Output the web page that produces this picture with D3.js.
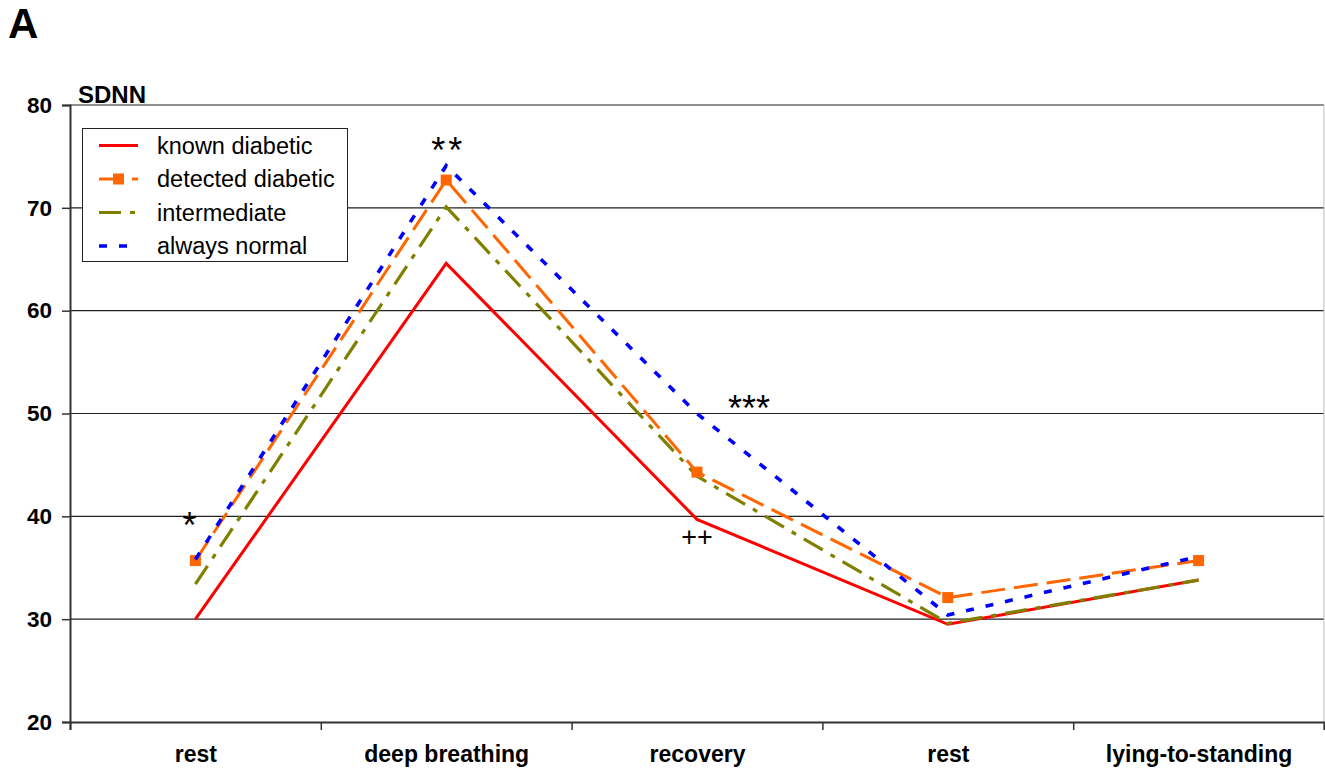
<!DOCTYPE html>
<html><head><meta charset="utf-8">
<script src="https://cdn.jsdelivr.net/npm/d3@7"></script>
<style>
body{margin:0;background:#fff;}
svg{display:block;font-family:"Liberation Sans",Arial,sans-serif;}
</style></head>
<body><svg id="c" width="1325" height="773"></svg>
<script>
const categories = ["rest","deep breathing","recovery","rest ","lying-to-standing"];
const knownDiabetic    = [30.0, 64.6, 39.7, 29.5, 33.8];
const detectedDiabetic = [35.7, 72.7, 44.3, 32.1, 35.7];
const intermediate     = [33.4, 70.1, 43.9, 29.6, 33.8];
const alwaysNormal     = [35.8, 74.1, 50.0, 30.4, 36.1];
const seriesNames = ["known diabetic","detected diabetic","intermediate","always normal"];
const yTicks = [20,30,40,50,60,70,80];
const annotations = [
  {cat:0, v:37.85, text:"*"},
  {cat:1, v:74.4, text:"**"},
  {cat:2, v:49.3, text:"***"},
  {cat:2, v:37.1, text:"++"}
];
const annotDx = [-6, 2, 52, 0];
const annotSize = [36, 36, 36, 27];
const annotSpacing = [0, 3, 0, 0];

const svg = d3.select("#c");
const L = 70, R = 1324, T = 105, B = 722;

const x = d3.scalePoint().domain(categories).range([L, R]).padding(0.5);
const xb = d3.scaleLinear().domain([0, categories.length]).range([L, R]);
const y = d3.scaleLinear().domain([20, 80]).range([B, T]);

// gridlines
svg.append("g").selectAll("line").data(yTicks.slice(1)).join("line")
  .attr("x1", L).attr("x2", R).attr("y1", d => y(d)).attr("y2", d => y(d))
  .attr("stroke", "#222").attr("stroke-width", 1.2);

// right border (light)
svg.append("line").attr("x1", R).attr("x2", R).attr("y1", T).attr("y2", B)
  .attr("stroke", "#bbb").attr("stroke-width", 1);

// y axis
const ya = svg.append("g").attr("transform", `translate(${L},0)`)
  .call(d3.axisLeft(y).tickValues(yTicks).tickSize(8).tickPadding(10));
ya.select(".domain").attr("stroke", "#333").attr("stroke-width", 2);
ya.selectAll(".tick line").attr("stroke", "#333").attr("stroke-width", 1.5);
ya.selectAll(".tick text").attr("font-size", 22.5).attr("font-weight", "bold")
  .attr("fill", "#000").attr("font-family", "Liberation Sans, Arial, sans-serif");

// x axis: boundary ticks
const xa = svg.append("g").attr("transform", `translate(0,${B})`)
  .call(d3.axisBottom(xb).tickValues(d3.range(0, categories.length + 1)).tickSize(8).tickFormat(""));
xa.select(".domain").attr("stroke", "#333").attr("stroke-width", 2);
xa.selectAll(".tick line").attr("stroke", "#333").attr("stroke-width", 1.5);
// category labels
const xl = svg.append("g").attr("transform", `translate(0,${B})`)
  .call(d3.axisBottom(x).tickSize(0).tickPadding(24));
xl.select(".domain").remove();
xl.selectAll(".tick text").attr("font-size", 23).attr("font-weight", "bold")
  .attr("fill", "#000").attr("font-family", "Liberation Sans, Arial, sans-serif");

// series
const series = [
  {name: seriesNames[0], values: knownDiabetic, color: "#ff0000", dash: null, w: 3},
  {name: seriesNames[1], values: detectedDiabetic, color: "#ff6600", dash: "24,9", w: 3, marker: true},
  {name: seriesNames[2], values: intermediate, color: "#808000", dash: "22,9,5,9", w: 3.2},
  {name: seriesNames[3], values: alwaysNormal, color: "#0000ff", dash: "8,12", w: 3.6}
];
const line = d3.line().x((d, i) => x(categories[i])).y(d => y(d));
const drawOrder = [0, 2, 1, 3];
drawOrder.forEach(k => {
  const s = series[k];
  svg.append("path").datum(s.values).attr("d", line)
    .attr("fill", "none").attr("stroke", s.color).attr("stroke-width", s.w)
    .attr("stroke-dasharray", s.dash).attr("stroke-linejoin", "miter");
  if (s.marker) {
    svg.append("g").selectAll("rect").data(s.values).join("rect")
      .attr("x", (d, i) => x(categories[i]) - 5.5).attr("y", d => y(d) - 5.5)
      .attr("width", 11).attr("height", 11).attr("fill", s.color);
  }
});

// annotations
svg.append("g").selectAll("text").data(annotations).join("text")
  .attr("x", (d, i) => x(categories[d.cat]) + annotDx[i])
  .attr("y", d => y(d.v))
  .attr("text-anchor", "middle")
  .attr("font-size", (d, i) => annotSize[i])
  .attr("letter-spacing", (d, i) => annotSpacing[i])
  .attr("fill", "#000")
  .text(d => d.text);

// legend
const lg = svg.append("g");
lg.append("rect").attr("x", 82.5).attr("y", 128.5).attr("width", 265).attr("height", 133)
  .attr("fill", "#fff").attr("stroke", "#222").attr("stroke-width", 1);
series.forEach((s, i) => {
  const cy = 145.5 + i * 33.5;
  lg.append("line").attr("x1", 99).attr("x2", 138).attr("y1", cy).attr("y2", cy)
    .attr("stroke", s.color).attr("stroke-width", s.w).attr("stroke-dasharray", s.dash);
  if (s.marker) lg.append("rect").attr("x", 113).attr("y", cy - 5.5).attr("width", 11).attr("height", 11).attr("fill", s.color);
  lg.append("text").attr("x", 157).attr("y", cy + 8).attr("font-size", 23.5).attr("fill", "#000").text(s.name);
});

// titles
svg.append("text").attr("x", 78).attr("y", 103).attr("font-size", 24).attr("font-weight", "bold").text("SDNN");
svg.append("text").attr("x", 8).attr("y", 38).attr("font-size", 42).attr("font-weight", "bold").text("A");
</script></body></html>
